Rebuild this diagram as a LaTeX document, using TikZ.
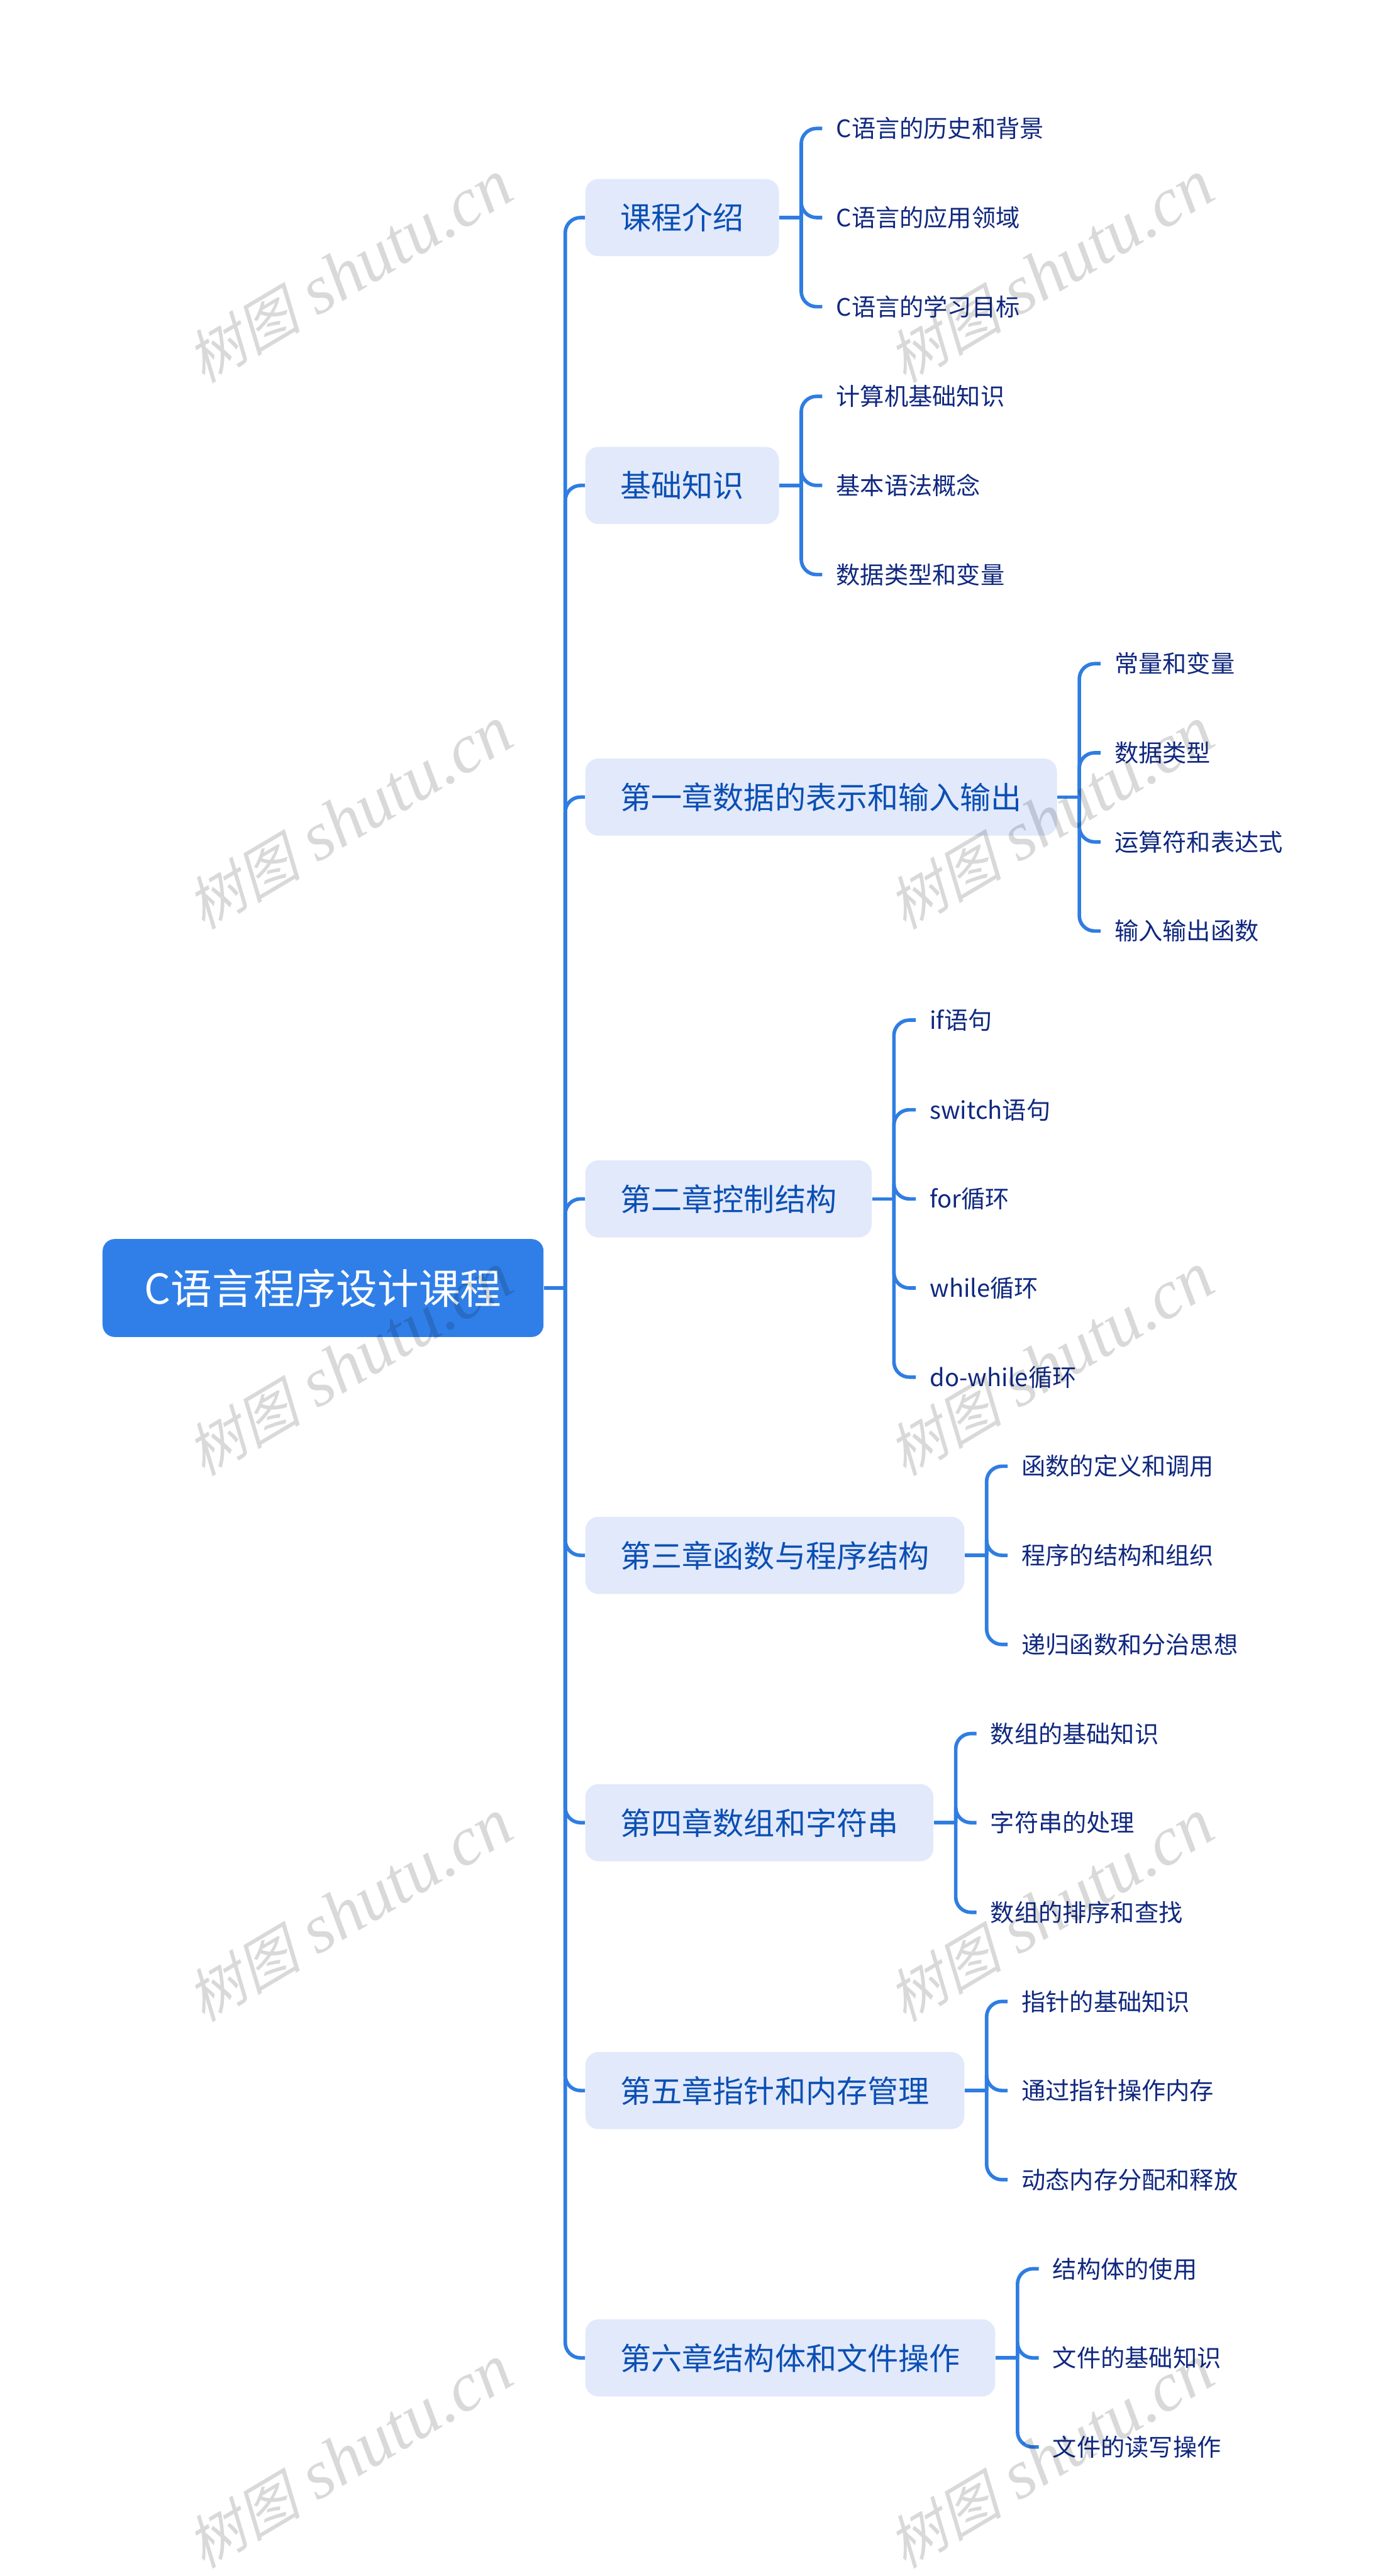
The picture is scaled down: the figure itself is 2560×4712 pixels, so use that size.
\documentclass[tikz,border=0pt]{standalone}
\usepackage{fontspec}
\setmainfont{Noto Sans CJK SC}
\newfontfamily\markcjk[FakeSlant=0.25]{Noto Sans CJK SC}
\newfontfamily\marklatin{Liberation Serif}[ItalicFont=* Italic]
\usetikzlibrary{calc}
\definecolor{linkblue}{HTML}{2F7DE1}
\definecolor{rootblue}{HTML}{307FE8}
\definecolor{boxblue}{HTML}{E1E9FB}
\definecolor{boxtext}{HTML}{0B4FB3}
\definecolor{leaftext}{HTML}{10287F}
\begin{document}
\begin{tikzpicture} [
            x=0.01cm,y=-0.01cm,
            root/.style={rectangle,rounded corners=0.22cm,fill=rootblue,text=white,font=\fontsize{21.5pt}{25pt}\selectfont,minimum width=8.06cm,minimum height=1.79cm,inner sep=0pt,anchor=west},
            chapter/.style={rectangle,rounded corners=0.24cm,fill=boxblue,text=boxtext,font=\fontsize{16.07pt}{20pt}\selectfont,minimum height=1.41cm,inner xsep=0.64cm,inner ysep=0pt,anchor=west},
            leaf/.style={text=leaftext,font=\fontsize{12.5pt}{15pt}\selectfont,inner xsep=0.25cm,inner ysep=0pt,anchor=west},
            link/.style={draw,linkblue,line width=0.065cm,-},
            elbow/.style={link,rounded corners=0.28cm},
            watermark/.style={text=black,opacity=0.15,rotate=30.7,anchor=base,inner sep=0pt},
        ]
        \useasboundingbox (0,0) rectangle (2560,4712);
        % First we draw the root and the chapters
        \node[root] (root) at (187,2356) {C语言程序设计课程};
        \foreach \pos/\name/\label in {
                {(1070,398)/intro/课程介绍},
                {(1070,888)/basics/基础知识},
                {(1070,1458)/ch1/第一章数据的表示和输入输出},
                {(1070,2193)/ch2/第二章控制结构},
                {(1070,2845)/ch3/第三章函数与程序结构},
                {(1070,3334)/ch4/第四章数组和字符串},
                {(1070,3824)/ch5/第五章指针和内存管理},
                {(1070,4313)/ch6/第六章结构体和文件操作}}
            \node[chapter] (\name) at \pos {\label};
        % Then the leaves of every chapter
        \foreach \pos/\name/\label in {
                % intro and basics
                {(1504,235)/a1/C语言的历史和背景},
                {(1504,398)/a2/C语言的应用领域},
                {(1504,561)/a3/C语言的学习目标},
                {(1504,725)/b1/计算机基础知识},
                {(1504,888)/b2/基本语法概念},
                {(1504,1051)/b3/数据类型和变量},
                % chapter one and two
                {(2013,1214)/c1/常量和变量},
                {(2013,1377)/c2/数据类型},
                {(2013,1540)/c3/运算符和表达式},
                {(2013,1703)/c4/输入输出函数},
                {(1675,1866)/d1/if语句},
                {(1675,2030)/d2/switch语句},
                {(1675,2193)/d3/for循环},
                {(1675,2356)/d4/while循环},
                {(1675,2519)/d5/do-while循环},
                % chapter three and four
                {(1843,2682)/e1/函数的定义和调用},
                {(1843,2845)/e2/程序的结构和组织},
                {(1843,3008)/e3/递归函数和分治思想},
                {(1786,3171)/f1/数组的基础知识},
                {(1786,3334)/f2/字符串的处理},
                {(1786,3498)/f3/数组的排序和查找},
                % chapter five and six
                {(1843,3661)/g1/指针的基础知识},
                {(1843,3824)/g2/通过指针操作内存},
                {(1843,3987)/g3/动态内存分配和释放},
                {(1900,4150)/h1/结构体的使用},
                {(1900,4313)/h2/文件的基础知识},
                {(1900,4476)/h3/文件的读写操作}}
            \node[leaf] (\name) at \pos {\label};
        % Connect root and chapters over the main bus
        \coordinate (bus) at ($(root.east)+(39,0)$);
        \path[link] (root.east) -- (bus);
        \foreach \dest in {intro,basics,ch1,ch2,ch3,ch4,ch5,ch6}
            \path[elbow] (bus) |- (\dest.west);
        % Connect chapters with their leaves
        \foreach \source/\leaves in {
                intro/{a1,a2,a3},
                basics/{b1,b2,b3},
                ch1/{c1,c2,c3,c4},
                ch2/{d1,d2,d3,d4,d5},
                ch3/{e1,e2,e3},
                ch4/{f1,f2,f3},
                ch5/{g1,g2,g3},
                ch6/{h1,h2,h3}} {
            \coordinate (\source bus) at ($(\source.east)+(40,0)$);
            \path[link] (\source.east) -- (\source bus);
            \foreach \dest in \leaves
                \path[elbow] (\source bus) |- (\dest.west);
        }
        % watermark goes on top of everything
        \foreach \pos/\name in {
                {(659,532)/m1},{(1942,532)/m2},
                {(659,1532)/m3},{(1942,1532)/m4},
                {(659,2531)/m5},{(1942,2531)/m6},
                {(659,3530)/m7},{(1942,3530)/m8},
                {(659,4529)/m9},{(1942,4529)/m10}}
            \node[watermark] (\name) at \pos {{\markcjk\fontsize{30pt}{33pt}\selectfont 树图}{\marklatin\itshape\fontsize{36pt}{40pt}\selectfont\ shutu.cn}};
    \end{tikzpicture}
\end{document}
